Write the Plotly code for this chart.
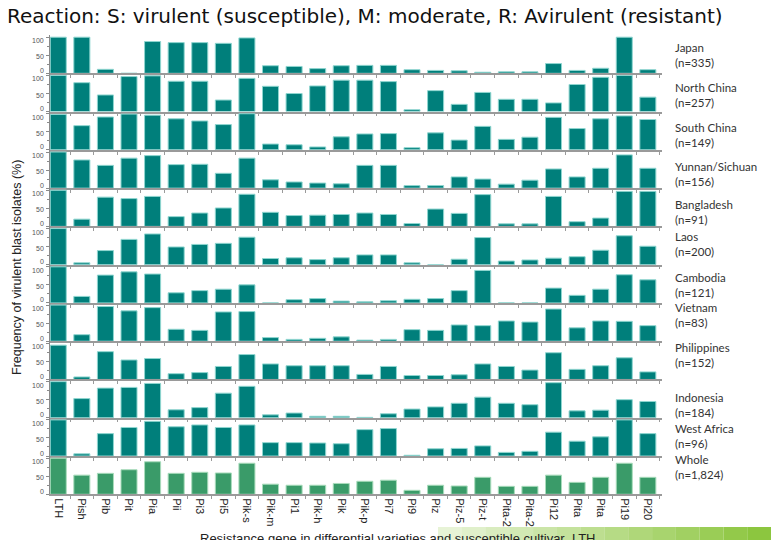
import plotly.graph_objects as go
from plotly.subplots import make_subplots

genes = ["LTH", "Pish", "Pib", "Pit", "Pia", "Pii", "Pi3", "Pi5", "Pik-s", "Pik-m",
         "Pi1", "Pik-h", "Pik", "Pik-p", "Pi7", "Pi9", "Piz", "Piz-5", "Piz-t",
         "Pita-2", "Pita-2", "Pi12", "Pita", "Pita", "Pi19", "Pi20"]

regions = ["Japan", "North China", "South China", "Yunnan/Sichuan", "Bangladesh", "Laos",
           "Cambodia", "Vietnam", "Philippines", "Indonesia", "West Africa", "Whole"]
counts = ["335", "257", "149", "156", "91", "200", "121", "83", "152", "184", "96", "1,824"]

y_ticks = [0, 50, 100]

japan = [100, 100, 11, 0, 88, 85, 85, 83, 98, 21, 19, 13, 21, 22, 22, 10, 8, 7, 3, 4, 4, 27, 8, 14, 100, 10]
north_china = [100, 80, 46, 97, 99, 84, 84, 32, 92, 70, 50, 71, 87, 87, 83, 5, 58, 20, 53, 34, 34, 24, 75, 95, 100, 40]
south_china = [98, 67, 91, 99, 96, 86, 80, 70, 100, 16, 14, 8, 36, 44, 45, 6, 47, 27, 65, 29, 35, 90, 59, 86, 94, 84]
yunnan_sichuan = [100, 78, 63, 83, 90, 65, 66, 41, 83, 23, 17, 14, 12, 63, 63, 7, 7, 31, 25, 11, 22, 53, 31, 55, 92, 55]
bangladesh = [100, 20, 81, 77, 83, 27, 37, 51, 89, 39, 30, 31, 33, 37, 33, 8, 48, 36, 88, 7, 7, 83, 13, 23, 97, 97]
laos = [100, 5, 39, 70, 85, 49, 56, 59, 76, 17, 19, 14, 19, 27, 27, 5, 0, 15, 75, 10, 13, 18, 22, 40, 80, 51]
cambodia = [100, 18, 77, 86, 80, 28, 34, 38, 50, 0, 9, 12, 5, 3, 6, 10, 12, 34, 90, 0, 0, 41, 21, 38, 78, 64]
vietnam = [100, 18, 96, 84, 93, 33, 30, 81, 82, 10, 5, 8, 12, 3, 5, 32, 30, 45, 43, 56, 53, 89, 37, 56, 55, 43]
philippines = [95, 7, 77, 54, 58, 16, 19, 36, 69, 43, 38, 38, 38, 14, 36, 11, 11, 13, 43, 36, 26, 74, 28, 38, 60, 21]
indonesia = [100, 53, 82, 84, 95, 22, 28, 68, 87, 8, 13, 4, 4, 1, 11, 24, 30, 40, 57, 40, 36, 97, 19, 21, 50, 45]
west_africa = [100, 6, 62, 79, 96, 81, 86, 79, 86, 37, 37, 36, 34, 73, 76, 2, 20, 21, 28, 10, 13, 66, 41, 53, 100, 62]
whole = [100, 53, 58, 68, 90, 58, 61, 59, 86, 28, 25, 25, 30, 36, 39, 11, 25, 23, 47, 22, 22, 53, 33, 47, 86, 47]

series = [japan, north_china, south_china, yunnan_sichuan, bangladesh, laos,
          cambodia, vietnam, philippines, indonesia, west_africa, whole]

W, H = 771, 540
TEAL, TEAL_EDGE = "#007F7B", "#8FD6D0"
GREEN, GREEN_EDGE = "#3A9B69", "#A9DCBC"
AXIS_GREY = "#8a8a8a"
TICK_FONT = dict(family="Liberation Sans", size=7, color="#555")

n = len(regions)
fig = make_subplots(rows=n, cols=1, shared_xaxes=True, vertical_spacing=0.0)

x_pos = list(range(len(genes)))
for i, vals in enumerate(series):
    last = i == n - 1
    fig.add_trace(go.Bar(
        x=x_pos, y=vals, width=0.68,
        marker=dict(color=GREEN if last else TEAL,
                    line=dict(color=GREEN_EDGE if last else TEAL_EDGE, width=1)),
        showlegend=False, hoverinfo="x+y"), row=i + 1, col=1)

annotations = []
base0, step = 73.3, 38.27
x0_px, x1_px = 50, 662
label_nudge = {0: 3, 50: -1.5, 100: -3.5}
for i in range(n):
    bottom = base0 + step * i
    top = bottom - step
    ykey = "yaxis" if i == 0 else f"yaxis{i+1}"
    xkey = "xaxis" if i == 0 else f"xaxis{i+1}"
    yref_name = "y" if i == 0 else f"y{i+1}"
    fig.layout[ykey].update(
        domain=[1 - bottom / H, 1 - top / H], range=[0, 106],
        tickvals=y_ticks, showticklabels=False,
        showline=True, linecolor=AXIS_GREY, linewidth=1,
        ticks="outside", ticklen=3, tickcolor=AXIS_GREY,
        minor=dict(tickvals=[25, 75], ticks="outside", ticklen=2, tickcolor=AXIS_GREY),
        showgrid=False, zeroline=False, fixedrange=True)
    # tick labels, nudged as in the original so stacked panels do not collide
    for v in y_ticks:
        annotations.append(dict(
            xref="paper", yref=yref_name, x=46 / W, y=v, yshift=label_nudge[v],
            xanchor="right", yanchor="middle", showarrow=False, text=str(v),
            font=TICK_FONT))
    fig.layout[xkey].update(
        domain=[x0_px / W, x1_px / W], range=[-0.35, 25.6],
        showline=True, linecolor="#9a9a9a", linewidth=1.5,
        ticks="", showgrid=False, zeroline=False,
        minor=dict(tick0=0.5, dtick=1, ticks="outside", ticklen=3, tickcolor="#9a9a9a"),
        tickvals=x_pos, ticktext=genes, tickangle=90,
        showticklabels=(i == n - 1),
        tickfont=dict(family="Liberation Sans", size=11, color="#222"))

label_y_px = [55.5, 94.7, 135.3, 173.8, 212, 244, 285, 315, 355.3, 405, 436, 467]
for reg, cnt, ypx in zip(regions, counts, label_y_px):
    annotations.append(dict(
        xref="paper", yref="paper", x=673 / W, y=1 - ypx / H,
        xanchor="left", yanchor="middle", align="left", showarrow=False,
        text=f"{reg}<br>(n={cnt})",
        font=dict(family="Lato", size=11.5, color="#333")))

annotations.append(dict(
    xref="paper", yref="paper", x=5 / W, y=1 - 16 / H, xanchor="left", yanchor="middle",
    showarrow=False,
    text="Reaction: S: virulent (susceptible), M: moderate, R: Avirulent (resistant)",
    font=dict(family="DejaVu Sans", size=20, color="#111")))

annotations.append(dict(
    xref="paper", yref="paper", x=17 / W, y=1 - 268 / H, xanchor="center", yanchor="middle",
    showarrow=False, textangle=-90,
    text="Frequency of virulent blast isolates (%)",
    font=dict(family="Liberation Sans", size=12.5, color="#222")))

shapes = []
# green decorative gradient band at bottom right
steps = 14
for k in range(steps):
    xa = 438 + k * (771 - 438) / steps
    xb = 438 + (k + 1) * (771 - 438) / steps
    shapes.append(dict(type="rect", xref="paper", yref="paper", layer="below",
                       x0=xa / W, x1=xb / W, y0=0, y1=1 - 527 / H,
                       line=dict(width=0), fillcolor="#8CC63F",
                       opacity=0.15 + 0.85 * (k + 1) / steps))

annotations.append(dict(
    xref="paper", yref="paper", x=398 / W, y=1 - 538 / H, xanchor="center", yanchor="middle",
    showarrow=False,
    text="Resistance gene in differential varieties and susceptible cultivar  LTH",
    font=dict(family="Liberation Sans", size=13, color="#222")))

fig.update_layout(
    width=W, height=H, margin=dict(l=0, r=0, t=0, b=0),
    paper_bgcolor="white", plot_bgcolor="white",
    bargap=0.3, annotations=annotations, shapes=shapes)

fig.write_html("out.html", config={"displayModeBar": False},
               post_script="document.body.style.margin='0';document.body.style.overflow='hidden';")
